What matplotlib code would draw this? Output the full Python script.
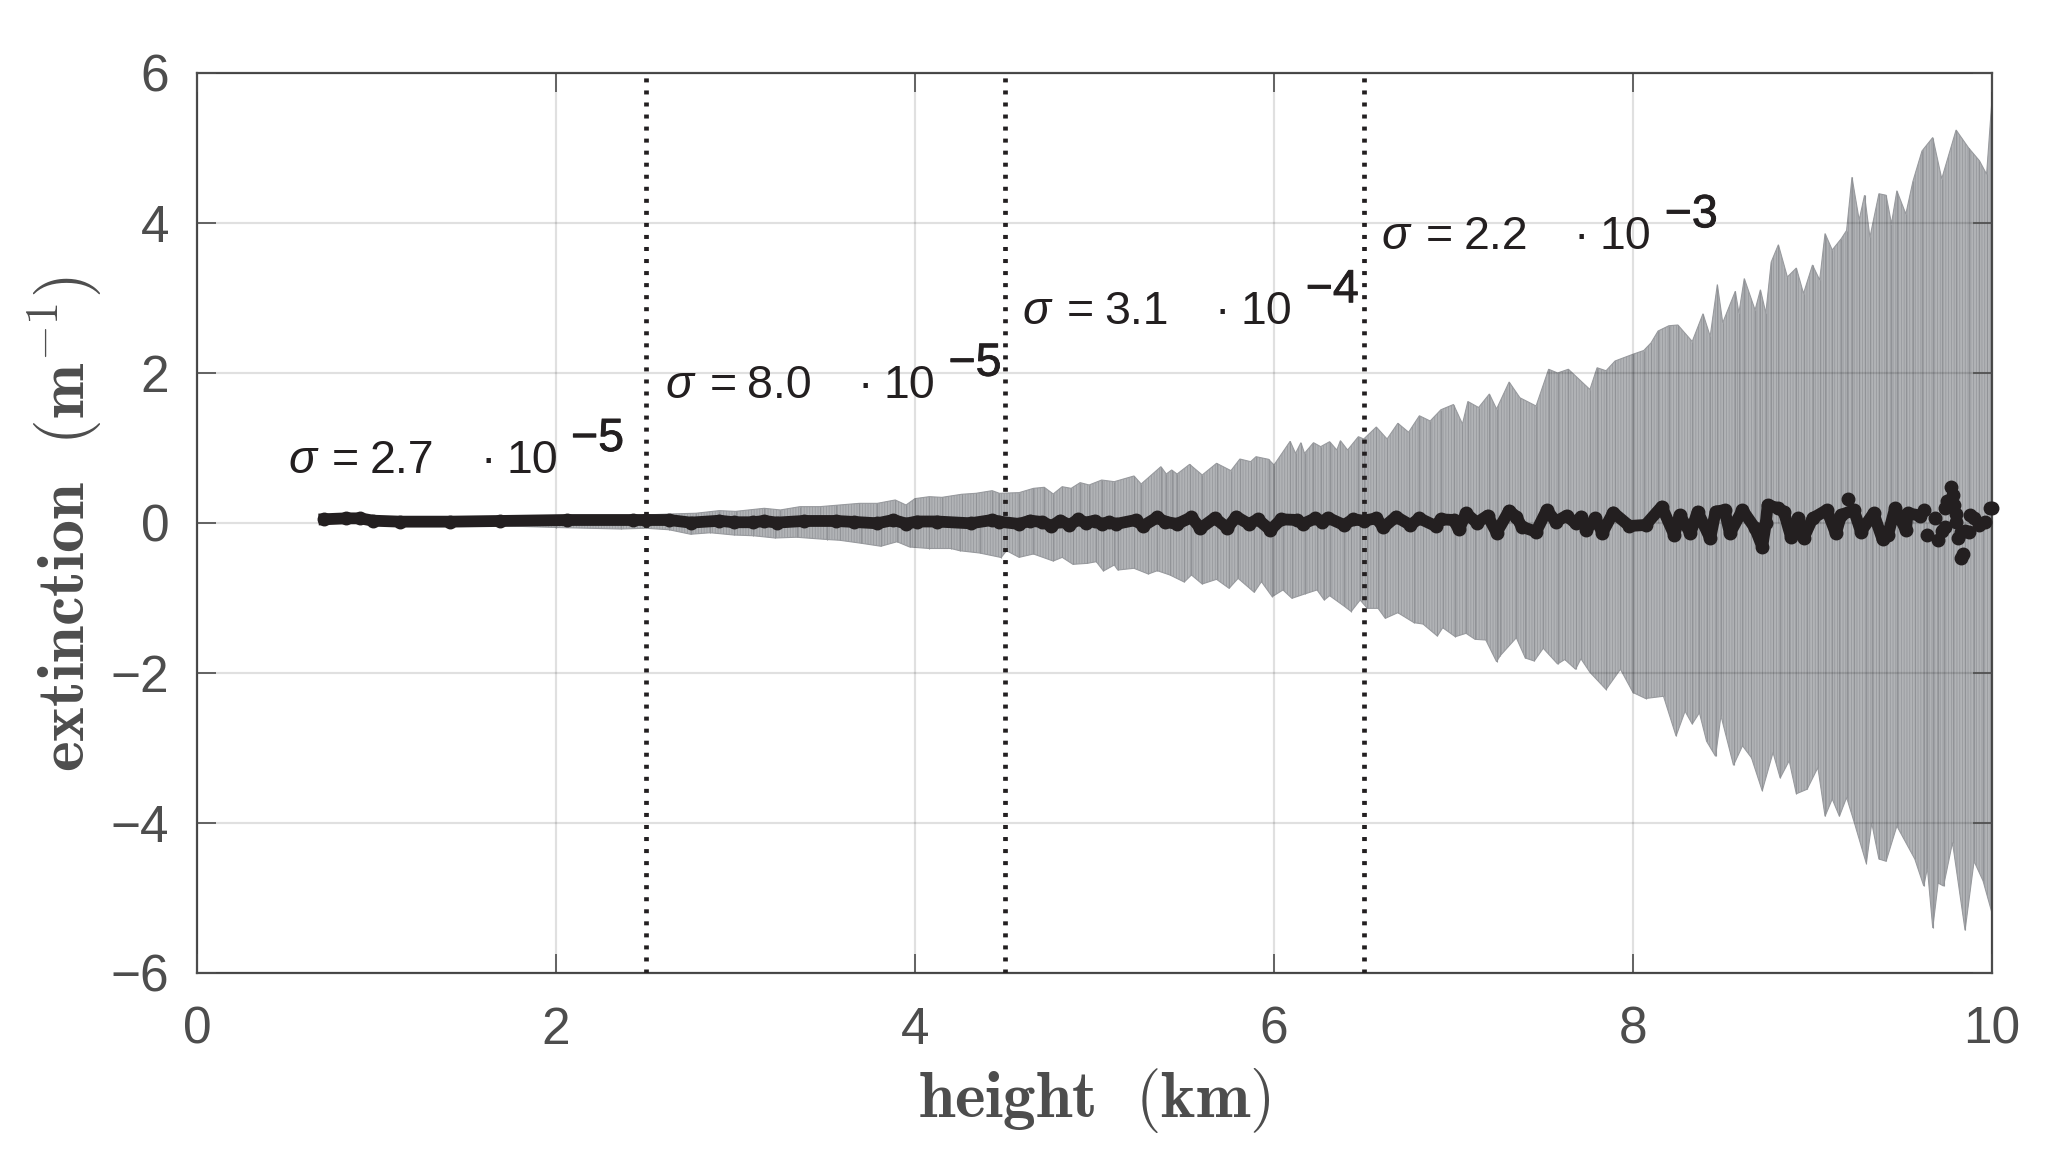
import matplotlib
matplotlib.use("Agg")
from matplotlib import pyplot as plt
from matplotlib import patheffects

upper_x = [1.6, 2.0, 2.36, 2.5, 2.63, 2.78, 2.91, 3.0, 3.16, 3.25, 3.36, 3.47, 3.56, 3.69, 3.79, 3.89, 3.95, 4.0, 4.08, 4.15, 4.26, 4.34, 4.43,
           4.47, 4.58, 4.66, 4.72, 4.77, 4.82, 4.87, 4.92, 4.97, 5.04, 5.11, 5.22, 5.26, 5.37, 5.4, 5.43, 5.46, 5.53, 5.6, 5.68, 5.76, 5.81, 5.87, 5.9, 5.97, 6.0,
           6.09, 6.12, 6.15, 6.17, 6.22, 6.26, 6.31, 6.35, 6.37, 6.41, 6.47,
           6.5, 6.57, 6.63, 6.69, 6.75, 6.81, 6.87, 6.93, 7.0, 7.05, 7.08, 7.14, 7.2, 7.24, 7.31, 7.37, 7.46, 7.53, 7.58, 7.64, 7.76, 7.8, 7.85, 7.9,
           8.0, 8.06, 8.1, 8.14, 8.2, 8.25, 8.33, 8.39, 8.43, 8.47, 8.5, 8.57, 8.59, 8.62, 8.68, 8.71, 8.74, 8.77, 8.81, 8.86, 8.91, 8.95,
           9.0, 9.04, 9.07, 9.11, 9.16, 9.19, 9.22, 9.26, 9.29, 9.32, 9.37, 9.41, 9.44, 9.47, 9.52, 9.56, 9.61, 9.67, 9.72, 9.8, 9.87, 9.93, 9.97, 10.0]
upper_y = [0.02, 0.07, 0.09, 0.107, 0.12, 0.13, 0.165, 0.155, 0.196, 0.174, 0.218, 0.218, 0.236, 0.262, 0.262, 0.307, 0.24, 0.325, 0.351, 0.342, 0.383, 0.396, 0.431,
           0.396, 0.405, 0.462, 0.476, 0.387, 0.484, 0.462, 0.538, 0.507, 0.573, 0.551, 0.627, 0.52, 0.751, 0.653, 0.707, 0.653, 0.782, 0.64, 0.796, 0.698, 0.853, 0.818, 0.884, 0.849, 0.773,
           1.089, 0.929, 1.071, 0.929, 1.071, 1.018, 1.084, 0.973, 1.098, 0.973, 1.151,
           1.12, 1.28, 1.12, 1.33, 1.21, 1.43, 1.36, 1.51, 1.58, 1.32, 1.62, 1.54, 1.72, 1.52, 1.88, 1.67, 1.56, 2.05, 2.0, 2.05, 1.78, 2.07, 2.03, 2.16,
           2.25, 2.3, 2.4, 2.56, 2.63, 2.64, 2.42, 2.79, 2.49, 3.18, 2.67, 3.09, 2.8, 3.26, 2.84, 3.11, 2.8, 3.48, 3.71, 3.28, 3.4, 3.06,
           3.44, 3.24, 3.86, 3.64, 3.79, 3.9, 4.61, 4.04, 4.37, 3.81, 4.39, 4.37, 3.99, 4.43, 4.12, 4.56, 4.96, 5.14, 4.59, 5.24, 5.0, 4.83, 4.65, 5.65]

lower_x = [1.6, 2.0, 2.36, 2.5, 2.63, 2.75, 2.86, 2.99, 3.1, 3.22, 3.34, 3.51, 3.58, 3.7, 3.81, 3.9, 3.97, 4.08, 4.2, 4.25, 4.36, 4.48,
           4.51, 4.58, 4.66, 4.77, 4.82, 4.88, 4.96, 5.01, 5.05, 5.11, 5.13, 5.22, 5.3, 5.35, 5.42, 5.5, 5.54, 5.6, 5.68, 5.75, 5.8, 5.89, 5.93, 5.99, 6.05, 6.1,
           6.17, 6.24, 6.28, 6.31, 6.39, 6.43, 6.48, 6.52, 6.58, 6.62, 6.69, 6.78, 6.83, 6.91, 6.94, 7.01, 7.07, 7.12, 7.18, 7.24,
           7.26, 7.35, 7.4, 7.45, 7.5, 7.58, 7.62, 7.68, 7.71, 7.76, 7.85, 7.93,
           8.0, 8.07, 8.17, 8.24, 8.29, 8.33, 8.37, 8.41, 8.46, 8.49, 8.56, 8.61, 8.66, 8.72, 8.78, 8.82, 8.87, 8.91, 8.97,
           9.03, 9.07, 9.11, 9.15, 9.19, 9.23, 9.3, 9.33, 9.37, 9.41, 9.47, 9.57, 9.62, 9.64, 9.67, 9.7, 9.73, 9.78, 9.85, 9.9, 9.95, 10.0]
lower_y = [-0.03, -0.06, -0.08, -0.07, -0.09, -0.15, -0.13, -0.16, -0.17, -0.2, -0.19, -0.22, -0.23, -0.27, -0.31, -0.25, -0.32, -0.34, -0.34, -0.37, -0.4, -0.46,
           -0.369, -0.458, -0.413, -0.507, -0.458, -0.551, -0.538, -0.516, -0.64, -0.56, -0.627, -0.604, -0.68, -0.636, -0.693, -0.787, -0.693, -0.813, -0.751, -0.871, -0.738, -0.924, -0.782, -0.982, -0.893, -1.004,
           -0.947, -0.893, -1.027, -0.969, -1.107, -1.18, -1.027, -1.138, -1.138, -1.271, -1.196, -1.329, -1.347, -1.507, -1.396, -1.516, -1.471, -1.551, -1.56, -1.849,
           -1.77, -1.53, -1.8, -1.84, -1.67, -1.88, -1.82, -1.95, -1.81, -1.99, -2.22, -1.95,
           -2.26, -2.34, -2.31, -2.84, -2.51, -2.68, -2.53, -2.91, -3.11, -2.57, -3.23, -2.97, -3.13, -3.57, -3.06, -3.4, -3.17, -3.61, -3.55,
           -3.26, -3.91, -3.68, -3.91, -3.66, -3.97, -4.54, -4.0, -4.48, -4.51, -4.04, -4.48, -4.84, -4.6, -5.4, -4.8, -4.84, -4.26, -5.43, -4.51, -4.77, -5.2]

mean_x = [0.71, 0.83, 0.91, 0.98, 1.13, 1.41, 1.69, 2.06, 2.43,
          2.5, 2.63, 2.75, 2.91, 2.99, 3.1, 3.16, 3.23, 3.38, 3.56, 3.66, 3.79, 3.88, 3.95, 4.01, 4.12, 4.31, 4.43,
          4.47, 4.58, 4.64, 4.71, 4.76, 4.81, 4.86, 4.91, 4.95, 5.0, 5.04, 5.08, 5.12, 5.23, 5.27, 5.35, 5.39, 5.46, 5.54, 5.59, 5.67, 5.74, 5.79, 5.86, 5.91, 5.98, 6.04, 6.13,
          6.16, 6.23, 6.27, 6.3, 6.39, 6.44, 6.5, 6.57, 6.61, 6.68, 6.76, 6.81, 6.9, 6.93, 7.0, 7.03, 7.07, 7.13, 7.19, 7.24, 7.31, 7.35, 7.38, 7.46, 7.52, 7.57, 7.63, 7.68, 7.71, 7.74, 7.79,
          7.83, 7.89, 7.98, 8.07, 8.16, 8.23, 8.26, 8.32, 8.36, 8.43, 8.46, 8.51, 8.54, 8.61, 8.68, 8.72, 8.74, 8.75, 8.81, 8.84, 8.88, 8.92, 8.95,
          9.0, 9.08, 9.13, 9.16, 9.23, 9.27, 9.34, 9.39, 9.42, 9.46, 9.52, 9.53, 9.6]
mean_y = [0.05, 0.062, 0.062, 0.031, 0.018, 0.018, 0.027, 0.04, 0.04,
          0.04, 0.04, 0.005, 0.03, 0.01, 0.01, 0.027, 0.005, 0.027, 0.027, 0.014, -0.004, 0.04, -0.009, 0.02, 0.02, -0.004, 0.04,
          0.018, -0.013, 0.031, 0.013, -0.04, 0.031, -0.027, 0.049, 0.004, 0.031, -0.013, 0.013, -0.013, 0.04, -0.04, 0.076, 0.018, -0.013, 0.076, -0.071, 0.067, -0.067, 0.084, -0.013, 0.049, -0.093, 0.049, 0.04,
          -0.013, 0.062, 0.018, 0.07, -0.027, 0.049, 0.031, 0.062, -0.058, 0.084, -0.027, 0.062, -0.04, 0.049, 0.04, -0.085, 0.129, 0.004, 0.098, -0.129, 0.164, 0.084, -0.05, -0.116, 0.173, 0.018, 0.098, -0.005, 0.084, -0.094, 0.062,
          -0.13, 0.14, -0.04, -0.026, 0.218, -0.16, 0.107, -0.138, 0.151, -0.204, 0.151, 0.173, -0.138, 0.173, -0.07, -0.315, 0.0, 0.24, 0.196, 0.151, -0.182, 0.062, -0.204,
          0.062, 0.173, -0.138, 0.107, 0.173, -0.115, 0.129, -0.218, -0.16, 0.196, -0.093, 0.129, 0.1]

# the last stretch is loose dots, so no line through them
tail_x = [9.2, 9.62, 9.64, 9.68, 9.7, 9.72, 9.74, 9.74, 9.75, 9.77, 9.78, 9.79, 9.8, 9.8, 9.81, 9.83, 9.85, 9.87, 9.83, 9.84, 9.88, 9.9, 9.93, 9.96, 9.99, 10.0]
tail_y = [0.316, 0.173, -0.16, 0.062, -0.227, -0.1, 0.2, -0.049, 0.3, 0.485, 0.38, 0.24, 0.12, 0.018, -0.204, -0.12, -0.1, -0.115, -0.471, -0.41, 0.107, 0.07, -0.026, 0.02, 0.196, 0.2]

section_edges = [2.5, 4.5, 6.5]
sigma_x = [0.507, 2.61, 4.6, 6.6]
sigma_y = [0.667, 1.67, 2.65, 3.65]
sigma_val = ["2.7", "8.0", "3.1", "2.2"]
sigma_exp = ["\u22125", "\u22125", "\u22124", "\u22123"]
x_ticks = [0, 2, 4, 6, 8, 10]
y_ticks = [-6, -4, -2, 0, 2, 4, 6]

axis_col = "#4d4d4d"
ink = "#231f20"
plt.rcParams["font.family"] = ["Liberation Sans", "DejaVu Sans"]
plt.rcParams["mathtext.fontset"] = "cm"
plt.rcParams["axes.unicode_minus"] = True
plt.rcParams["hatch.linewidth"] = 0.6

fig = plt.figure(figsize=(20.48, 11.63), dpi=100)
ax = fig.add_axes([197 / 2048, 1 - 973 / 1163, (1992 - 197) / 2048, 900 / 1163])

# hatch stands in for the fine oscillation of the grey trace
ax.fill(upper_x + lower_x[::-1], upper_y + lower_y[::-1], facecolor="#b1b3b6", edgecolor="#989a9e",
        lw=0.8, hatch="||||||", zorder=1)
ax.vlines(upper_x, 0, upper_y, color="#919397", lw=0.8, zorder=1.1)
ax.vlines(lower_x, lower_y, 0, color="#919397", lw=0.8, zorder=1.1)

for e in section_edges:
    ax.plot([e, e], [-6, 6], color=ink, lw=3.4, linestyle=(0, (0.85, 1.7)), zorder=3)

ax.plot(mean_x, mean_y, "-o", color=ink, lw=8.5, ms=9, solid_joinstyle="round", zorder=4)
ax.plot(tail_x, tail_y, "o", color=ink, ms=9, zorder=4, clip_on=False)

ax.set_xlim(0, 10)
ax.set_ylim(-6, 6)
ax.set_xticks(x_ticks)
ax.set_yticks(y_ticks)
ax.set_axisbelow(False)
ax.grid(True, color="black", alpha=0.12, lw=1.6)
ax.tick_params(direction="in", length=13.5, width=1.2, color=axis_col, labelcolor=axis_col,
               labelsize=37, top=True, right=True)
ax.tick_params(axis="x", pad=23.5)
ax.tick_params(axis="y", pad=20)
for s in ax.spines.values():
    s.set_color(axis_col)
    s.set_linewidth(1.6)

fig.text(1094 / 2048, 1 - 1117 / 1163, r"$\mathbf{height\ \ (km)}$", color=axis_col, fontsize=47, ha="center", va="baseline")
fig.text(65 / 2048, 1 - 524 / 1163, r"$\mathbf{extinction\ \ (m^{-1})}$", color=axis_col, fontsize=47.5,
         ha="center", va="center", rotation=90)

# pieces sit at pixel offsets from the sigma, as in the original spaced layout
thick = [patheffects.withStroke(linewidth=0.6, foreground=ink)]
for x, y, val, ex in zip(sigma_x, sigma_y, sigma_val, sigma_exp):
    ax.annotate("\u03c3", (x, y), fontsize=33.5, style="italic", color=ink, zorder=5)
    for txt, dx, dy in [("=", 44, 0), (val, 82, 0), ("\u00b7", 192, 0), ("10", 218, 0)]:
        ax.annotate(txt, (x, y), xytext=(dx * 0.72, dy * 0.72), textcoords="offset points",
                    fontsize=33.5, color=ink, zorder=5)
    ax.annotate(ex, (x, y), xytext=(283 * 0.72, 22 * 0.72), textcoords="offset points",
                fontsize=33.5, color=ink, zorder=5, path_effects=thick)

fig.savefig("out.png", dpi=100)
plt.close(fig)
